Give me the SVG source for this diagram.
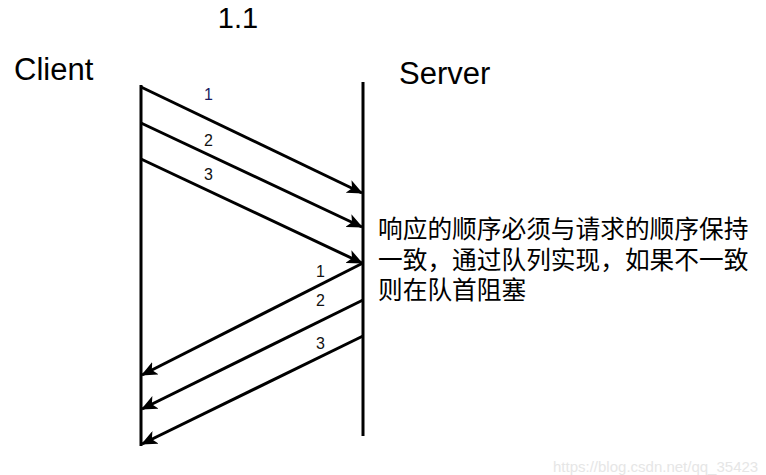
<svg xmlns="http://www.w3.org/2000/svg" width="766" height="475" viewBox="0 0 766 475">
<style>
.lbl{font-family:"Liberation Sans",Arial,sans-serif;fill:#000}
.big{font-size:31px}
.num{font-size:16px;fill:#111}
.ln{stroke:#000;stroke-width:3;fill:none}
.cn{font-family:"Liberation Sans","Noto Sans CJK SC",sans-serif;font-size:24.7px;fill:#000}
</style>
<defs>
<marker id="ah" viewBox="0 0 16 14" refX="15" refY="7" markerWidth="16" markerHeight="14" markerUnits="userSpaceOnUse" orient="auto">
<path d="M0,0 L16,7 L0,14 L4,7 z" fill="#000"/>
</marker>
</defs>
<rect width="766" height="475" fill="#fff"/>
<text class="lbl" x="238" y="28" font-size="29" text-anchor="middle">1.1</text>
<g id="client">
<text class="lbl big" x="14" y="80">Client</text>
<line class="ln" x1="141" y1="85" x2="141" y2="446"/>
</g>
<g id="server">
<text class="lbl big" x="399" y="84">Server</text>
<line class="ln" x1="363" y1="82" x2="363" y2="436"/>
</g>
<g id="connectors">
<line class="ln" x1="141" y1="87" x2="362" y2="193" marker-end="url(#ah)"/>
<line class="ln" x1="141" y1="123" x2="362" y2="227" marker-end="url(#ah)"/>
<line class="ln" x1="141" y1="159" x2="362" y2="263" marker-end="url(#ah)"/>
<line class="ln" x1="363" y1="263" x2="142" y2="375" marker-end="url(#ah)"/>
<line class="ln" x1="363" y1="300" x2="142" y2="409" marker-end="url(#ah)"/>
<line class="ln" x1="363" y1="336" x2="142" y2="444" marker-end="url(#ah)"/>
<text class="lbl num" x="204" y="100" style="fill:#1a1a60">1</text>
<text class="lbl num" x="204" y="146">2</text>
<text class="lbl num" x="204" y="180">3</text>
<text class="lbl num" x="316" y="277">1</text>
<text class="lbl num" x="316" y="306">2</text>
<text class="lbl num" x="316" y="349">3</text>
</g>
<g id="note">
<text class="cn" x="378" y="238">响应的顺序必须与请求的顺序保持</text>
<text class="cn" x="378" y="269">一致，通过队列实现，如果不一致</text>
<text class="cn" x="378" y="299">则在队首阻塞</text>
</g>
<text x="553" y="472" font-family="Liberation Sans,Arial,sans-serif" font-size="15" fill="#e6e6e6">https://blog.csdn.net/qq_35423</text>
</svg>
